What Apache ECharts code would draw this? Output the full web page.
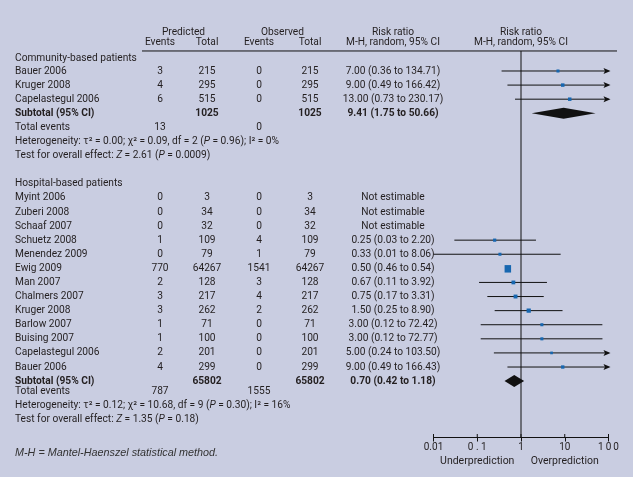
<!DOCTYPE html>
<html>
<head>
<meta charset="utf-8">
<script src="https://cdn.jsdelivr.net/npm/echarts@6/dist/echarts.min.js"></script>
<style>
html,body{margin:0;padding:0;background:#c9cde1;}
#c{width:633px;height:477px;}
</style>
</head>
<body>
<div id="c"></div>
<script>
// ---------- DATA ----------
const commStudies    = ["Bauer 2006", "Kruger 2008", "Capelastegul 2006"];
const commPredEvents = [3, 4, 6];
const commPredTotal  = [215, 295, 515];
const commObsEvents  = [0, 0, 0];
const commObsTotal   = [215, 295, 515];
const commRR         = [7.00, 9.00, 13.00];
const commLo         = [0.36, 0.49, 0.73];
const commHi         = [134.71, 166.42, 230.17];
const commWeight     = [3, 6, 6];
const commSubtotal   = [9.41, 1.75, 50.66];     // RR, lo, hi
const commSubTotals  = [1025, 1025];            // predicted total, observed total
const commTotEvents  = [13, 0];                 // predicted, observed
const commHet        = ["0.00", "0.09", "2", "0.96", "0%"];
const commTest       = ["2.61", "0.0009"];

const hospStudies    = ["Myint 2006", "Zuberi 2008", "Schaaf 2007", "Schuetz 2008", "Menendez 2009", "Ewig 2009", "Man 2007", "Chalmers 2007", "Kruger 2008", "Barlow 2007", "Buising 2007", "Capelastegul 2006", "Bauer 2006"];
const hospPredEvents = [0, 0, 0, 1, 0, 770, 2, 3, 3, 1, 1, 2, 4];
const hospPredTotal  = [3, 34, 32, 109, 79, 64267, 128, 217, 262, 71, 100, 201, 299];
const hospObsEvents  = [0, 0, 0, 4, 1, 1541, 3, 4, 2, 0, 0, 0, 0];
const hospObsTotal   = [3, 34, 32, 109, 79, 64267, 128, 217, 262, 71, 100, 201, 299];
const hospRR         = [null, null, null, 0.25, 0.33, 0.50, 0.67, 0.75, 1.50, 3.00, 3.00, 5.00, 9.00];
const hospLo         = [null, null, null, 0.03, 0.01, 0.46, 0.11, 0.17, 0.25, 0.12, 0.12, 0.24, 0.49];
const hospHi         = [null, null, null, 2.20, 8.06, 0.54, 3.92, 3.31, 8.90, 72.42, 72.77, 103.50, 166.43];
const hospWeight     = [0, 0, 0, 4, 3, 56, 9, 10, 14, 3, 3, 1.2, 5];
const hospSubtotal   = [0.70, 0.42, 1.18];
const hospSubTotals  = [65802, 65802];
const hospTotEvents  = [787, 1555];
const hospHet        = ["0.12", "10.68", "9", "0.30", "16%"];
const hospTest       = ["1.35", "0.18"];

const tickLabels = ["0.01", "0 . 1", "1", "10", "1\u20090\u20090"];

// ---------- LAYOUT ----------
const FONT = "Roboto";
const FS = 10.2;
const TXT = "#231f20";
const BLUE = "#1767b0";
const COL = {name: 15, pe: 160, pt: 207, oe: 259, ot: 310, ci: 393, rr: 521};

const commRow0 = 1, commHeadRow = 0.1;
const hospRow0 = 10, hospHeadRow = 9;

function fmtCI(r, l, h) {
  if (r == null) return "Not estimable";
  return r.toFixed(2) + " (" + l.toFixed(2) + " to " + h.toFixed(2) + ")";
}

const studyRows = [];
commStudies.forEach((s, i) => studyRows.push({row: commRow0 + i, rr: commRR[i], lo: commLo[i], hi: commHi[i], w: commWeight[i]}));
hospStudies.forEach((s, i) => { if (hospRR[i] != null) studyRows.push({row: hospRow0 + i, rr: hospRR[i], lo: hospLo[i], hi: hospHi[i], w: hospWeight[i]}); });

const commSubRow = commRow0 + commStudies.length;
const hospSubRow = hospRow0 + hospStudies.length;
const diamonds = [
  {row: commSubRow, v: commSubtotal, h: 11},
  {row: hospSubRow, v: hospSubtotal, h: 12}
];

const XMIN = 0.01, XMAX = 100;
const tickValues = [0.01, 0.1, 1, 10, 100];

const chart = echarts.init(document.getElementById('c'), null, {renderer: 'canvas'});

const option = {
  backgroundColor: '#c9cde1',
  animation: false,
  grid: {left: 433.5, right: 24.5, top: 14.6, bottom: 39.5, containLabel: false},
  xAxis: {
    type: 'log', logBase: 10, min: XMIN, max: XMAX, position: 'bottom',
    axisLine: {show: true, onZero: false, lineStyle: {color: '#111', width: 1}},
    axisTick: {show: true, length: 4, lineStyle: {color: '#111', width: 1}},
    axisLabel: {show: true, margin: 5, color: TXT, fontFamily: FONT, fontSize: 10,
      formatter: (v, idx) => tickLabels[idx] != null ? tickLabels[idx] : ''},
    splitLine: {show: false}
  },
  yAxis: {type: 'value', min: -3, max: 27, inverse: true, show: false},
  series: [
    { // line of no effect
      type: 'line', data: [[1, -0.42], [1, 27]], symbol: 'none',
      lineStyle: {color: '#111', width: 1}, silent: true, z: 2
    },
    { // inward half of axis ticks
      type: 'custom', clip: false, z: 2, silent: true,
      data: tickValues.map(v => [v, 27]),
      renderItem: (params, api) => {
        const p = api.coord([api.value(0), api.value(1)]);
        return {type: 'line', shape: {x1: p[0], y1: p[1] - 3.5, x2: p[0], y2: p[1]}, style: {stroke: '#111', lineWidth: 1}};
      }
    },
    { // CI lines with arrows
      type: 'custom', clip: false, z: 3,
      data: studyRows.map(d => [d.lo, d.hi, d.row]),
      renderItem: (params, api) => {
        const lo = api.value(0), hi = api.value(1), row = api.value(2);
        const p1 = api.coord([Math.max(lo, XMIN), row]);
        const p2 = api.coord([Math.min(hi, XMAX), row]);
        const children = [{type: 'line', shape: {x1: p1[0], y1: p1[1], x2: p2[0], y2: p2[1]}, style: {stroke: '#111', lineWidth: 1}}];
        if (hi > XMAX) {
          children.push({type: 'polygon', shape: {points: [[p2[0] + 2, p2[1]], [p2[0] - 5, p2[1] - 3], [p2[0] - 3.5, p2[1]], [p2[0] - 5, p2[1] + 3]]}, style: {fill: '#111'}});
        }
        return {type: 'group', children};
      }
    },
    { // study squares
      type: 'custom', clip: false, z: 4,
      data: studyRows.map(d => [d.rr, d.row, d.w]),
      renderItem: (params, api) => {
        const p = api.coord([api.value(0), api.value(1)]);
        const s = 2 + 0.6 * Math.sqrt(api.value(2));
        return {type: 'rect', shape: {x: p[0] - s / 2, y: p[1] - s / 2, width: s, height: s * (api.value(2) > 30 ? 1.15 : 1)}, style: {fill: BLUE}};
      }
    },
    { // pooled diamonds
      type: 'custom', clip: false, z: 4,
      data: diamonds.map(d => [d.v[0], d.v[1], d.v[2], d.row, d.h]),
      renderItem: (params, api) => {
        const row = api.value(3), h = api.value(4);
        const pc = api.coord([api.value(0), row]);
        const pl = api.coord([api.value(1), row]);
        const pr = api.coord([api.value(2), row]);
        return {type: 'polygon', shape: {points: [[pl[0], pc[1]], [pc[0], pc[1] - h / 2], [pr[0], pc[1]], [pc[0], pc[1] + h / 2]]}, style: {fill: '#111'}};
      }
    }
  ]
};
chart.setOption(option);

// ---------- TABLE TEXT ----------
const Y = r => chart.convertToPixel({yAxisIndex: 0}, r);
const X = v => chart.convertToPixel({xAxisIndex: 0}, v);
const rich = {
  i: {fontStyle: 'italic', fontFamily: FONT, fontSize: FS, color: TXT}
};
const g = [];
function txt(t, x, row, opts) {
  opts = opts || {};
  g.push({
    type: 'text', x: x, y: Y(row), silent: true,
    style: {
      text: t, fill: TXT, fontFamily: opts.family || FONT, fontSize: opts.size || FS,
      fontWeight: opts.bold ? 'bold' : 'normal', fontStyle: opts.italic ? 'italic' : 'normal',
      align: opts.align || 'center', verticalAlign: 'middle', rich: opts.rich
    }
  });
}

// header
txt("Predicted", (COL.pe + COL.pt) / 2, -1.76);
txt("Observed", (COL.oe + COL.ot) / 2 - 2, -1.76);
txt("Events", COL.pe, -0.99); txt("Total", COL.pt, -0.99);
txt("Events", COL.oe, -0.99); txt("Total", COL.ot, -0.99);
txt("Risk ratio", COL.ci, -1.76); txt("M-H, random, 95% CI", COL.ci, -0.99);
txt("Risk ratio", COL.rr, -1.76); txt("M-H, random, 95% CI", COL.rr, -0.99);
g.push({type: 'line', silent: true, shape: {x1: 142, y1: Y(-0.42), x2: 617, y2: Y(-0.42)}, style: {stroke: '#111', lineWidth: 1}});

function group(title, headRow, row0, studies, pe, pt, oe, ot, rr, lo, hi, sub, subTot, totEv, het, test, footGap) {
  txt(title, COL.name, headRow, {align: 'left'});
  studies.forEach((s, i) => {
    const r = row0 + i;
    txt(s, COL.name, r, {align: 'left'});
    txt(String(pe[i]), COL.pe, r);
    txt(String(pt[i]), COL.pt, r);
    txt(String(oe[i]), COL.oe, r);
    txt(String(ot[i]), COL.ot, r);
    txt(fmtCI(rr[i], lo[i], hi[i]), COL.ci, r);
  });
  const sr = row0 + studies.length;
  txt("Subtotal (95% CI)", COL.name, sr, {align: 'left', bold: true});
  txt(String(subTot[0]), COL.pt, sr, {bold: true});
  txt(String(subTot[1]), COL.ot, sr, {bold: true});
  txt(fmtCI(sub[0], sub[1], sub[2]), COL.ci, sr, {bold: true});
  const tr = sr + footGap;
  txt("Total events", COL.name, tr, {align: 'left'});
  txt(String(totEv[0]), COL.pe, tr);
  txt(String(totEv[1]), COL.oe, tr);
  txt("Heterogeneity: \u03c4\u00b2 = " + het[0] + "; \u03c7\u00b2 = " + het[1] + ", df = " + het[2] + " ({i|P} = " + het[3] + "); I\u00b2 = " + het[4],
      COL.name, tr + 1, {align: 'left', rich});
  txt("Test for overall effect: {i|Z} = " + test[0] + " ({i|P} = " + test[1] + ")", COL.name, tr + 2, {align: 'left', rich});
}
group("Community-based patients", commHeadRow, commRow0, commStudies, commPredEvents, commPredTotal, commObsEvents, commObsTotal,
      commRR, commLo, commHi, commSubtotal, commSubTotals, commTotEvents, commHet, commTest, 1);
group("Hospital-based patients", hospHeadRow, hospRow0, hospStudies, hospPredEvents, hospPredTotal, hospObsEvents, hospObsTotal,
      hospRR, hospLo, hospHi, hospSubtotal, hospSubTotals, hospTotEvents, hospHet, hospTest, 0.7);

// axis captions
g.push({type: 'text', x: X(0.1), y: 461, silent: true, style: {text: "Underprediction", fill: TXT, fontFamily: FONT, fontSize: 10.5, align: 'center', verticalAlign: 'middle'}});
g.push({type: 'text', x: X(10), y: 461, silent: true, style: {text: "Overprediction", fill: TXT, fontFamily: FONT, fontSize: 10.5, align: 'center', verticalAlign: 'middle'}});
// footnote
g.push({type: 'text', x: 15, y: 453, silent: true, style: {text: "M-H = Mantel-Haenszel statistical method.", fill: '#333', fontFamily: 'Liberation Sans', fontStyle: 'italic', fontSize: 10.8, align: 'left', verticalAlign: 'middle'}});

chart.setOption({graphic: {elements: g}});
</script>
</body>
</html>
